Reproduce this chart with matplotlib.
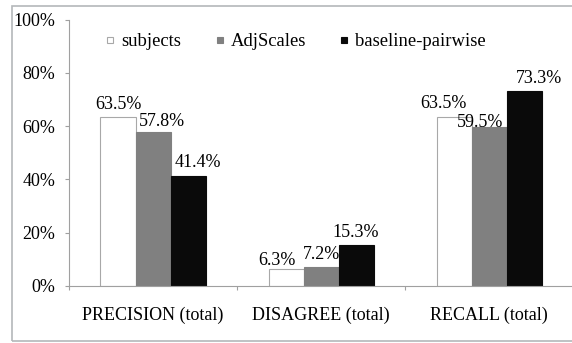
import matplotlib
matplotlib.use("Agg")
import matplotlib.pyplot as plt
from matplotlib.lines import Line2D
from matplotlib.patches import Rectangle
import numpy as np

# measures and systems
categories = ["PRECISION (total)", "DISAGREE (total)", "RECALL (total)"]
series = ["subjects", "AdjScales", "baseline-pairwise"]
subjects = [63.5, 6.3, 63.5]
adjscales = [57.8, 7.2, 59.5]
baseline = [41.4, 15.3, 73.3]
yticks = [0, 20, 40, 60, 80, 100]

face = ["white", "#808080", "#0a0a0a"]
edge = ["#a8a8a8", "#808080", "#0a0a0a"]
# small nudges (pixels) for the value labels, Excel style
nudge = [[(0, 8), (9, 6), (10, 9)],
         [(-9, 4), (0, 8), (0, 8)],
         [(-11, 9), (-9, 0), (15, 8)]]

plt.rcParams['font.family'] = ['Liberation Serif', 'DejaVu Serif']
FS = 13

W, H = 572, 343
fig = plt.figure(figsize=(W / 100, H / 100), dpi=100, facecolor='white')
ax = fig.add_axes([69 / W, (H - 286) / H, 504 / W, 266.5 / H])

# outer frame
fig.patches.append(Rectangle((12 / W, (H - 341) / H), 1.2, 335 / H,
                             transform=fig.transFigure, fill=False,
                             edgecolor='#b4b8ba', lw=1.2))

bw = 0.625 / 3
x = np.arange(3) + 0.5
for i, vals in enumerate([subjects, adjscales, baseline]):
    pos = x + (i - 1) * bw
    ax.bar(pos, vals, width=bw, color=face[i], edgecolor=edge[i], lw=0.8)
    for j, v in enumerate(vals):
        dx, dy = nudge[j][i]
        ax.annotate("%.1f%%" % v, (pos[j], v), xytext=(dx * 0.72, dy * 0.72),
                    textcoords='offset points', ha='center', va='baseline',
                    fontsize=FS)

ax.set_xlim(0, 3)
ax.set_ylim(0, 100)
ax.set_yticks(yticks)
ax.set_yticklabels(["%d%%" % t for t in yticks], fontsize=FS)
ax.set_xticks([0, 1, 2, 3])
ax.set_xticklabels([])
ax.set_xticks(x, minor=True)
ax.set_xticklabels(categories, minor=True, fontsize=FS)
ax.tick_params(axis='x', which='minor', length=0, pad=15)
ax.tick_params(axis='x', which='major', length=3, color='#a0a0a0')
ax.tick_params(axis='y', length=3, color='#a0a0a0', pad=7)
for s in ['top', 'right']:
    ax.spines[s].set_visible(False)
for s in ['left', 'bottom']:
    ax.spines[s].set_color('#a0a0a0')

handles = [Line2D([], [], ls='none', marker='s', markersize=5,
                  markerfacecolor=face[i], markeredgecolor=edge[i], markeredgewidth=0.8)
           for i in range(3)]
ax.legend(handles, series, loc='upper left', bbox_to_anchor=(97 / W, (H - 24) / H),
          bbox_transform=fig.transFigure, ncol=3, frameon=False, fontsize=13.4,
          handlelength=0.45, handletextpad=0.35, columnspacing=1.85, borderpad=0)

fig.savefig("out.png", dpi=100, facecolor='white')
